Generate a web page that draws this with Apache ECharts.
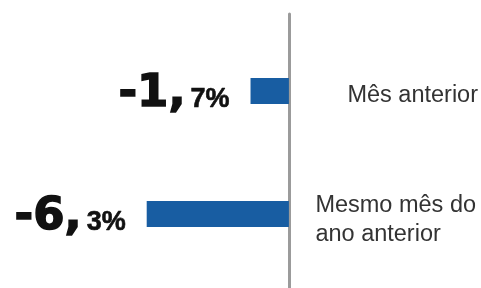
<!DOCTYPE html>
<html>
<head>
<meta charset="utf-8">
<script src="https://cdn.jsdelivr.net/npm/echarts@6/dist/echarts.min.js"></script>
<style>
  html, body { margin: 0; padding: 0; background: #fff; }
  #chart { width: 481px; height: 288px; }
</style>
</head>
<body>
<div id="chart"></div>
<script>
    // categories top to bottom
    let categories = ['Mês anterior', 'Mesmo mês do\nano anterior'];
    let values = [-1.7, -6.3];
    // label parts: integer part and decimal part
    let intParts = ['-1,', '-6,'];
    let decParts = ['7%', '3%'];

    let myChart = echarts.init(document.getElementById('chart'));

    let barData = values.map(function (v, i) {
        return {
            value: v,
            label: {
                formatter: '{big|' + intParts[i] + '}{small|' + decParts[i] + '}'
            }
        };
    });

    myChart.setOption({
        animation: false,
        grid: [
            {left: 0, right: 191.5, top: 29.5, bottom: 12.5},
            {left: 0, right: 191.5, top: 14, bottom: 0}
        ],
        xAxis: [
            {gridIndex: 0, type: 'value', min: -12.8, max: 0, show: false},
            {gridIndex: 1, type: 'value', min: -12.8, max: 0, show: false}
        ],
        yAxis: [
            {
                gridIndex: 0,
                type: 'category',
                data: categories,
                inverse: true,
                position: 'right',
                axisLine: {show: false},
                axisTick: {show: false},
                axisLabel: {
                    margin: 26.5,
                    align: 'left',
                    formatter: function (value, index) {
                        return '{' + (index === 0 ? 'a' : 'b') + '|' + value + '}';
                    },
                    rich: {
                        a: {
                            color: '#333',
                            fontFamily: 'Liberation Sans',
                            fontSize: 23.5,
                            lineHeight: 29,
                            padding: [10, 0, 0, 32]
                        },
                        b: {
                            color: '#333',
                            fontFamily: 'Liberation Sans',
                            fontSize: 23.5,
                            lineHeight: 29,
                            padding: [12, 0, 0, 0]
                        }
                    }
                }
            },
            {
                gridIndex: 1,
                type: 'value',
                position: 'right',
                axisLine: {show: true, lineStyle: {color: '#9b9b9b', width: 3}},
                axisTick: {show: false},
                axisLabel: {show: false},
                splitLine: {show: false}
            }
        ],
        series: [
            {
                type: 'bar',
                xAxisIndex: 0,
                yAxisIndex: 0,
                data: barData,
                barWidth: 26,
                itemStyle: {color: '#185da2'},
                label: {
                    show: true,
                    position: 'left',
                    distance: 21,
                    offset: [0, 3],
                    rich: {
                        big: {
                            fontFamily: 'DejaVu Sans',
                            fontWeight: 'bold',
                            fontSize: 45,
                            color: '#111',
                            textBorderColor: '#111',
                            textBorderWidth: 1.5,
                            lineHeight: 45,
                            verticalAlign: 'bottom'
                        },
                        small: {
                            fontFamily: 'Liberation Sans',
                            fontWeight: 'bold',
                            fontSize: 27,
                            color: '#111',
                            textBorderColor: '#111',
                            textBorderWidth: 0.6,
                            lineHeight: 45,
                            verticalAlign: 'bottom',
                            padding: [0, 0, 3, 5]
                        }
                    }
                }
            }
        ]
    });
</script>
</body>
</html>
